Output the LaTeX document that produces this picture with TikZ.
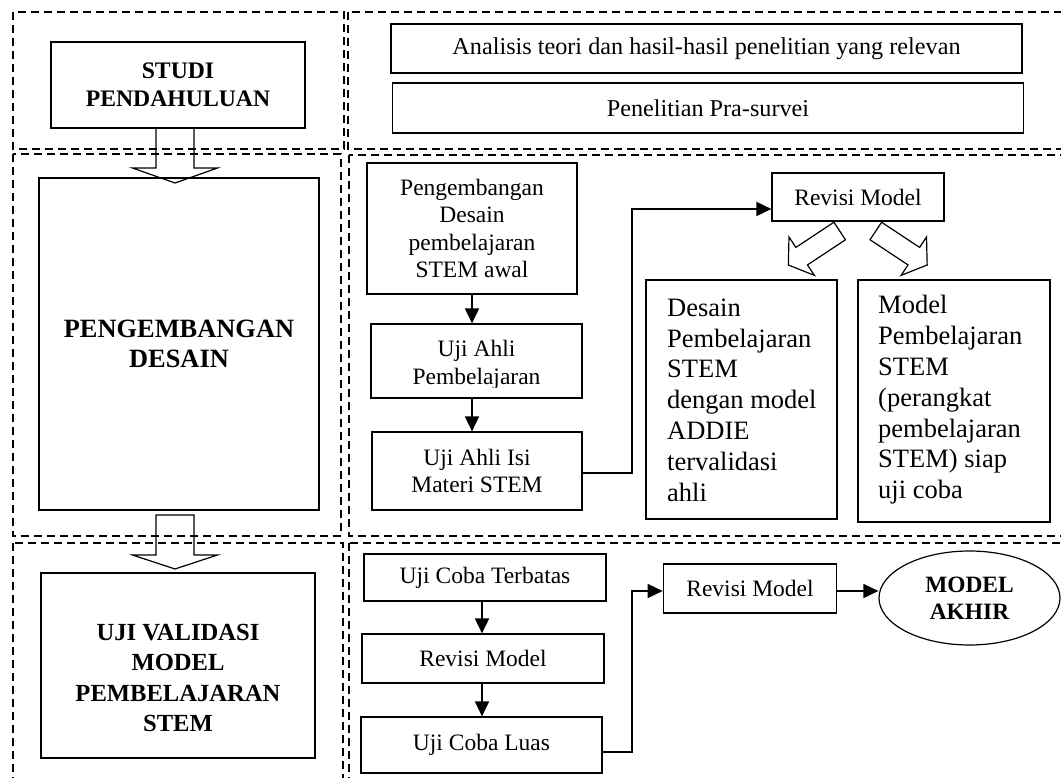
\documentclass[tikz,border=0pt]{standalone}
\usepackage{fontspec}
\setmainfont{Liberation Serif}
\usetikzlibrary{arrows.meta,calc,shapes.geometric}
\newcommand\fStudi{\fontsize{23.7pt}{28pt}\selectfont\bfseries}
\newcommand\fPeng{\fontsize{26.4pt}{30pt}\selectfont\bfseries}
\newcommand\fUji{\fontsize{24.6pt}{30.5pt}\selectfont\bfseries}
\newcommand\fAkhir{\fontsize{23.4pt}{27pt}\selectfont\bfseries}
\newcommand\fNorm{\fontsize{23.5pt}{27.5pt}\selectfont}
\newcommand\fWide{\fontsize{24.2pt}{28pt}\selectfont}
\newcommand\fBig{\fontsize{26.5pt}{30.8pt}\selectfont}
\newcommand\blockarrow[7]{%
  \draw[blk, shift={(#1,#2)}, rotate=#3] (0,-#4) -- (#5,-#4) -- (#5,-#6) -- ({#5+#7},0) -- (#5,#6) -- (#5,#4) -- (0,#4) -- cycle;}
\tikzset{
  frame/.style={draw, line width=1.2pt, dash pattern=on 8pt off 5pt},
  box/.style={draw, line width=1.2pt, rectangle, inner sep=0pt, align=center},
  txt/.style={inner sep=0pt, align=center, font=\fNorm},
  conn/.style={line width=1.8pt, -{Triangle[length=15pt,width=14pt]}},
  blk/.style={draw, line width=1.2pt, line join=miter},
}
\begin{document}
\begin{tikzpicture}[x=1pt,y=-1pt]
\useasboundingbox (0,0) rectangle (1061,778);
\clip (0,0) rectangle (1061,778);
% dashed frames
\draw[frame] (13,12) rectangle (344,149);
\draw[frame] (348,12) rectangle (1075,149);
\draw[frame] (13,154) rectangle (341,536);
\draw[frame] (349,155) rectangle (1075,536);
\draw[frame] (13,543) rectangle (343,790);
\draw[frame] (349,543) rectangle (1075,790);
% left column
\node[box, minimum width=254pt, minimum height=86pt, font=\fStudi] (studi) at (178,85) {STUDI\\PENDAHULUAN};
\node[box, minimum width=280pt, minimum height=332pt, font=\fPeng] (peng) at (179,344) {PENGEMBANGAN\\DESAIN};
\node[box, minimum width=274pt, minimum height=185pt] (uji) at (178,665.5) {};
\node[txt, font=\fUji] (ujit) at (178,678) {UJI VALIDASI\\MODEL\\PEMBELAJARAN\\STEM};
\blockarrow{175}{128}{-90}{19}{40}{42.5}{15}
\blockarrow{175}{515}{-90}{19}{40}{42.5}{14}
% top right
\node[box, minimum width=631pt, minimum height=49pt, font=\fWide] (anal) at (706.5,48.5) {Analisis teori dan hasil-hasil penelitian yang relevan};
\node[box, minimum width=631pt, minimum height=50pt, font=\fWide] (pra) at (708,108) {Penelitian Pra-survei};
% middle right
\node[box, minimum width=210pt, minimum height=131pt, font=\fNorm] (pd) at (472,228.5) {Pengembangan\\Desain\\pembelajaran\\STEM awal};
\node[box, minimum width=211pt, minimum height=74pt] (uap) at (476.5,361) {};
\begin{scope}
\clip (371,324) rectangle (582,387);
\node[txt] (uapt) at (476.5,365) {Uji Ahli\\Pembelajaran};
\end{scope}
\node[box, minimum width=210pt, minimum height=78pt, font=\fNorm] (uai) at (477,471) {Uji Ahli Isi\\Materi STEM};
\node[box, minimum width=172pt, minimum height=48pt, font=\fNorm] (rev1) at (858,197) {Revisi Model};
\node[box, minimum width=191pt, minimum height=239pt] (dsb) at (741.5,399.5) {};
\node[inner sep=0pt, align=left, anchor=west, font=\fBig] (dst) at (667,400) {Desain\\Pembelajaran\\STEM\\dengan model\\ADDIE\\tervalidasi\\ahli};
\node[box, minimum width=192pt, minimum height=242pt] (mdb) at (954,401) {};
\node[inner sep=0pt, align=left, anchor=west, font=\fBig] (mdt) at (878,400) {Model\\Pembelajaran\\STEM\\(perangkat\\pembelajaran\\STEM) siap\\uji coba};
\blockarrow{839.7}{231}{-146.5}{10.5}{45.6}{23}{16}
\blockarrow{875.8}{231}{-33.5}{10.5}{45.6}{23}{16}
% bottom right
\node[box, minimum width=242pt, minimum height=47pt, font=\fNorm] (uct) at (485,577.5) {Uji Coba Terbatas};
\node[box, minimum width=242pt, minimum height=49pt, font=\fNorm] (rm2a) at (483,658.5) {Revisi Model};
\node[box, minimum width=241pt, minimum height=56pt, font=\fNorm] (ucl) at (481.5,745) {Uji Coba Luas};
\node[box, minimum width=173.5pt, minimum height=49pt, font=\fNorm] (rm2b) at (750,588.5) {Revisi Model};
\node[draw, line width=1.2pt, ellipse, minimum width=181pt, minimum height=94pt, inner sep=0pt, align=center, font=\fAkhir] (akhir) at (969.5,598) {MODEL\\AKHIR};
% connectors
\coordinate (k1) at (632,209);
\coordinate (k2) at (632,591);
\draw[conn] (pd.south) -- (pd.south |- uap.north);
\draw[conn] (pd.south |- uap.south) -- (pd.south |- uai.north);
\draw[conn] ($(uai.east)+(0,2)$) -| (k1) -- (rev1.west |- k1);
\draw[conn] (uct.south -| 482,0) -- (rm2a.north -| 482,0);
\draw[conn] (rm2a.south -| 482,0) -- (ucl.north -| 482,0);
\draw[conn] ($(ucl.east)+(0,7)$) -| (k2) -- (rm2b.west |- k2);
\draw[conn] (rm2b.east |- k2) -- (akhir.west |- k2);
\end{tikzpicture}
\end{document}
